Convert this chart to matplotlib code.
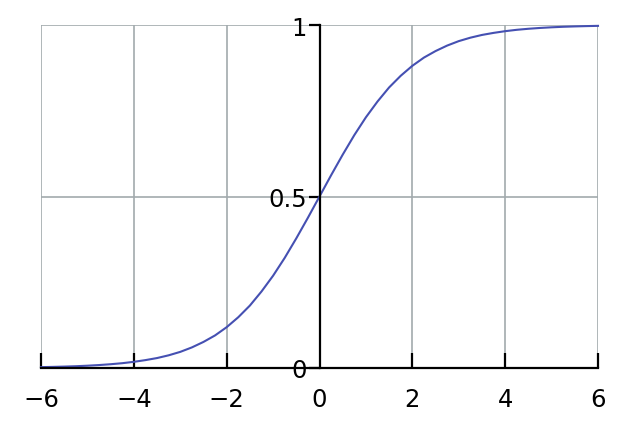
import matplotlib
matplotlib.use('Agg')
import matplotlib.pyplot as plt

# values
xs = [-6, -5.75, -5.5, -5.25, -5, -4.75, -4.5, -4.25, -4, -3.75, -3.5, -3.25, -3, -2.75,
      -2.5, -2.25, -2, -1.75, -1.5, -1.25, -1, -0.75, -0.5, -0.25, 0, 0.25, 0.5, 0.75,
      1, 1.25, 1.5, 1.75, 2, 2.25, 2.5, 2.75, 3, 3.25, 3.5, 3.75, 4, 4.25, 4.5, 4.75,
      5, 5.25, 5.5, 5.75, 6]
ys = [0.0025, 0.0032, 0.0041, 0.0052, 0.0067, 0.0086, 0.011, 0.014, 0.018, 0.023, 0.029,
      0.037, 0.047, 0.060, 0.076, 0.095, 0.119, 0.148, 0.182, 0.223, 0.269, 0.321, 0.378,
      0.438, 0.5, 0.562, 0.622, 0.679, 0.731, 0.777, 0.818, 0.852, 0.881, 0.905, 0.924,
      0.940, 0.953, 0.963, 0.971, 0.977, 0.982, 0.986, 0.989, 0.9914, 0.9933, 0.9948,
      0.9959, 0.9968, 0.9975]
xticks = [-6, -4, -2, 0, 2, 4, 6]
xlabels = ['\u22126', '\u22124', '\u22122', '0', '2', '4', '6']
xgrid = [-6, -4, -2, 2, 4, 6]
yticks = [0, 0.5, 1]
ylabels = ['0', '0.5', '1']

fig = plt.figure(figsize=(6.4, 4.27), dpi=100)
ax = fig.add_axes([41 / 640, 1 - 369 / 427, 557 / 640, 343 / 427])
ax.set_xlim(-6, 6)
ax.set_ylim(0, 1)

grid_col = '#a2aaad'
for g in xgrid:
    ax.axvline(g, color=grid_col, lw=1.2, zorder=1)
for g in [0.5, 1]:
    ax.axhline(g, color=grid_col, lw=1.2, zorder=1)

ax.plot(xs, ys, color='#4550b2', lw=1.5, zorder=3, clip_on=False)

for s in ['top', 'right']:
    ax.spines[s].set_visible(False)
ax.spines['left'].set_position(('data', 0))
ax.spines['left'].set_linewidth(1.6)
ax.spines['bottom'].set_linewidth(1.6)
ax.spines['left'].set_zorder(4)
ax.spines['bottom'].set_zorder(4)

ax.set_xticks(xticks)
ax.set_xticklabels(xlabels)
ax.set_yticks(yticks)
ax.set_yticklabels(ylabels)
ax.tick_params(axis='x', direction='in', length=11, width=1.6, labelsize=17.5, pad=14)
ax.tick_params(axis='y', direction='out', length=8, width=1.6, labelsize=17.5, pad=1)
# hide the tick at x=0 so it doesn't overlap the y axis
ax.xaxis.get_major_ticks()[3].tick1line.set_visible(False)

fig.savefig('out.png', dpi=100)
